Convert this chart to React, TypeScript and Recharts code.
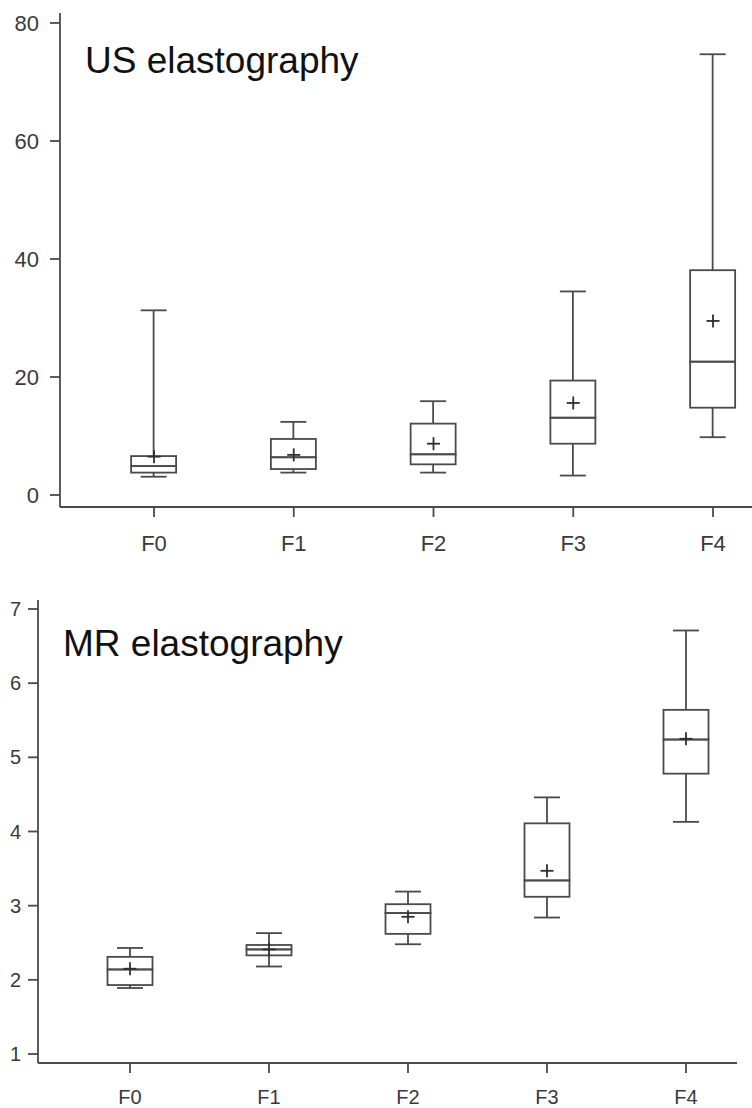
import { Bar, ComposedChart, Scatter, XAxis, YAxis } from "recharts";

const categories = ["F0", "F1", "F2", "F3", "F4"];

// US elastography (kPa)
const usMin = [3.1, 3.8, 3.8, 3.3, 9.8];
const usQ1 = [3.8, 4.4, 5.2, 8.7, 14.8];
const usMedian = [4.9, 6.4, 6.9, 13.1, 22.6];
const usQ3 = [6.6, 9.5, 12.1, 19.4, 38.1];
const usMax = [31.3, 12.4, 15.9, 34.5, 74.7];
const usMean = [6.5, 6.8, 8.7, 15.6, 29.5];
const usTicks = [0, 20, 40, 60, 80];

// MR elastography (kPa)
const mrMin = [1.89, 2.18, 2.48, 2.84, 4.13];
const mrQ1 = [1.93, 2.33, 2.62, 3.12, 4.78];
const mrMedian = [2.14, 2.41, 2.9, 3.34, 5.24];
const mrQ3 = [2.31, 2.47, 3.02, 4.11, 5.64];
const mrMax = [2.43, 2.63, 3.19, 4.46, 6.71];
const mrMean = [2.15, 2.41, 2.85, 3.47, 5.25];
const mrTicks = [1, 2, 3, 4, 5, 6, 7];

const xTicks = categories.map((_, i) => i);

const LINE = "#4a4a4a";
const TEXT = "#3a3a3a";
const FONT = "'Liberation Sans', Arial, Helvetica, sans-serif";
const CAP = 26;
const SW = 1.8;

type BoxRow = {
  x: number;
  name: string;
  base: number;
  lowW: number;
  boxLo: number;
  boxHi: number;
  highW: number;
  mean: number;
};

function buildRows(
  min: number[],
  q1: number[],
  med: number[],
  q3: number[],
  max: number[],
  mean: number[]
): BoxRow[] {
  return categories.map((name, i) => ({
    x: i,
    name,
    base: min[i],
    lowW: q1[i] - min[i],
    boxLo: med[i] - q1[i],
    boxHi: q3[i] - med[i],
    highW: max[i] - q3[i],
    mean: mean[i]
  }));
}

const usData = buildRows(usMin, usQ1, usMedian, usQ3, usMax, usMean);
const mrData = buildRows(mrMin, mrQ1, mrMedian, mrQ3, mrMax, mrMean);

const Empty = () => <g />;

const LowWhisker = (props: any) => {
  const { x, y, width, height } = props;
  const cx = x + width / 2;
  const yb = y + height;
  return (
    <g stroke={LINE} strokeWidth={SW}>
      <line x1={cx} x2={cx} y1={y} y2={yb} />
      <line x1={cx - CAP / 2} x2={cx + CAP / 2} y1={yb} y2={yb} />
    </g>
  );
};

const HighWhisker = (props: any) => {
  const { x, y, width, height } = props;
  const cx = x + width / 2;
  return (
    <g stroke={LINE} strokeWidth={SW}>
      <line x1={cx} x2={cx} y1={y} y2={y + height} />
      <line x1={cx - CAP / 2} x2={cx + CAP / 2} y1={y} y2={y} />
    </g>
  );
};

const BoxPart = (props: any) => {
  const { x, y, width, height } = props;
  return <rect x={x} y={y} width={width} height={height} fill="none" stroke={LINE} strokeWidth={SW} />;
};

const MeanMark = (props: any) => {
  const { cx, cy } = props;
  const r = 6.5;
  return (
    <g stroke="#2e2e2e" strokeWidth={1.8}>
      <line x1={cx - r} x2={cx + r} y1={cy} y2={cy} />
      <line x1={cx} x2={cx} y1={cy - r} y2={cy + r} />
    </g>
  );
};

type BoxChartProps = {
  data: BoxRow[];
  top: number;
  width: number;
  height: number;
  margin: { top: number; right: number; bottom: number; left: number };
  yWidth: number;
  xHeight: number;
  yDomain: [number, number];
  xDomain: [number, number];
  yTicks: number[];
  yTickMargin: number;
  xTickMargin: number;
  yFont: number;
  xFont: number;
  title: string;
  titleLeft: number;
  titleTop: number;
};

function BoxChart(p: BoxChartProps) {
  return (
    <div style={{ position: "absolute", left: 0, top: p.top, width: p.width, height: p.height }}>
      <ComposedChart width={p.width} height={p.height} data={p.data} margin={p.margin}>
        <XAxis
          dataKey="x"
          type="number"
          domain={p.xDomain}
          allowDataOverflow
          ticks={xTicks}
          interval={0}
          tickFormatter={(v: number) => categories[v] ?? ""}
          height={p.xHeight}
          tickSize={10}
          tickMargin={p.xTickMargin}
          axisLine={{ stroke: LINE, strokeWidth: SW }}
          tickLine={{ stroke: LINE, strokeWidth: SW }}
          tick={{ fill: TEXT, fontSize: p.xFont, fontFamily: FONT }}
        />
        <XAxis
          xAxisId="top"
          orientation="top"
          type="number"
          domain={p.xDomain}
          allowDataOverflow
          height={0}
          tick={false}
          tickLine={false}
          axisLine={{ stroke: LINE, strokeWidth: SW }}
        />
        <YAxis
          type="number"
          domain={p.yDomain}
          allowDataOverflow
          ticks={p.yTicks}
          interval={0}
          width={p.yWidth}
          tickSize={10}
          tickMargin={p.yTickMargin}
          axisLine={{ stroke: LINE, strokeWidth: SW }}
          tickLine={{ stroke: LINE, strokeWidth: SW }}
          tick={{ fill: TEXT, fontSize: p.yFont, fontFamily: FONT }}
        />
        <Bar dataKey="base" stackId="box" barSize={45} shape={Empty} isAnimationActive={false} />
        <Bar dataKey="lowW" stackId="box" barSize={45} shape={LowWhisker} isAnimationActive={false} />
        <Bar dataKey="boxLo" stackId="box" barSize={45} shape={BoxPart} isAnimationActive={false} />
        <Bar dataKey="boxHi" stackId="box" barSize={45} shape={BoxPart} isAnimationActive={false} />
        <Bar dataKey="highW" stackId="box" barSize={45} shape={HighWhisker} isAnimationActive={false} />
        <Scatter dataKey="mean" shape={MeanMark} isAnimationActive={false} />
      </ComposedChart>
      <div
        style={{
          position: "absolute",
          left: p.titleLeft,
          top: p.titleTop,
          fontFamily: FONT,
          fontSize: 37,
          lineHeight: "37px",
          color: "#111",
          whiteSpace: "nowrap"
        }}
      >
        {p.title}
      </div>
    </div>
  );
}

export default function App() {
  return (
    <div
      style={{
        position: "absolute",
        left: 0,
        top: 0,
        width: 752,
        height: 1108,
        overflow: "hidden",
        background: "#fff"
      }}
    >
      <BoxChart
        data={usData}
        top={0}
        width={752}
        height={560}
        margin={{ top: 13, right: 0, bottom: 0, left: 0 }}
        yWidth={60}
        xHeight={53}
        yDomain={[-2.03, 81.69]}
        xDomain={[-0.6726, 4.279]}
        yTicks={usTicks}
        yTickMargin={11}
        xTickMargin={18}
        yFont={22}
        xFont={22}
        title="US elastography"
        titleLeft={85}
        titleTop={42}
      />
      <BoxChart
        data={mrData}
        top={560}
        width={752}
        height={548}
        margin={{ top: 40, right: 15, bottom: 0, left: 0 }}
        yWidth={38}
        xHeight={45}
        yDomain={[0.879, 7.121]}
        xDomain={[-0.6619, 4.367]}
        yTicks={mrTicks}
        yTickMargin={7}
        xTickMargin={17}
        yFont={20}
        xFont={20}
        title="MR elastography"
        titleLeft={63}
        titleTop={65}
      />
    </div>
  );
}
